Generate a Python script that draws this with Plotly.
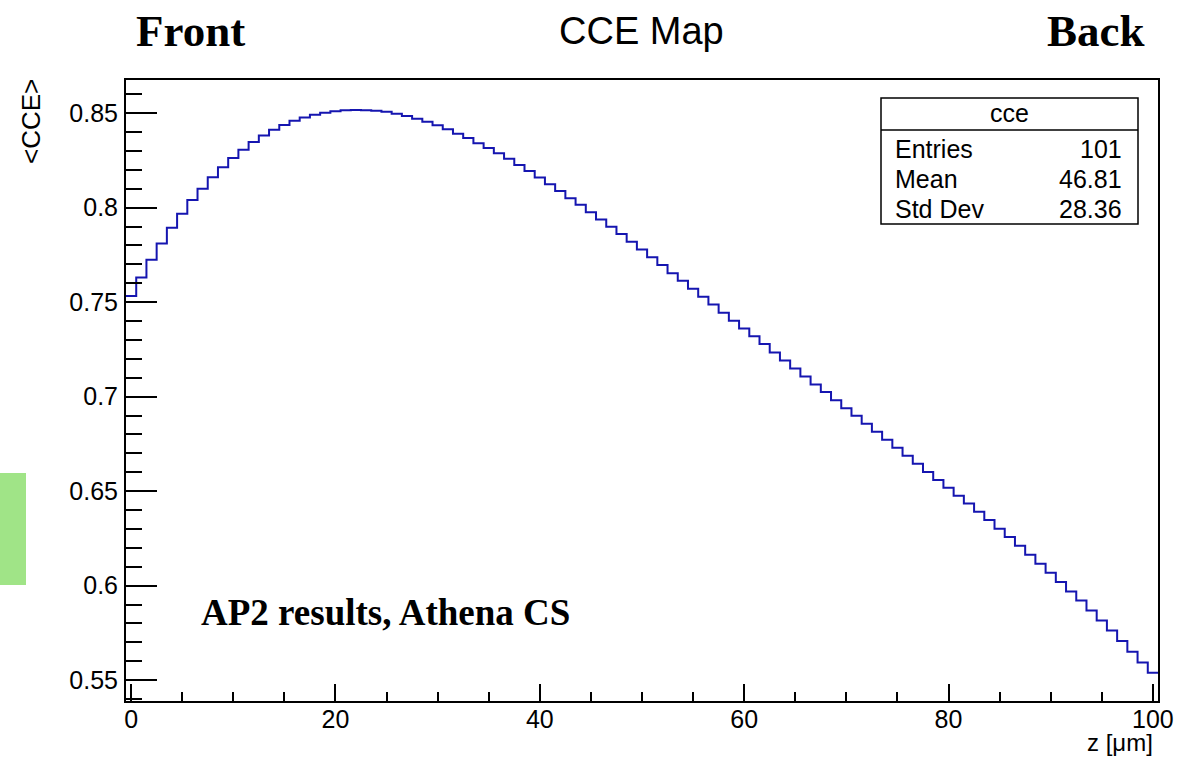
import numpy as np
import plotly.graph_objects as go

# Mean CCE per depth bin (z in micrometres, bin centres 0..100)
z_centres = list(range(0, 101))
cce_values = [
    0.7532, 0.7630, 0.7724, 0.7810, 0.7893, 0.7967, 0.8040, 0.8100, 0.8161, 0.8214,
    0.8262, 0.8306, 0.8347, 0.8382, 0.8412, 0.8437, 0.8459, 0.8477, 0.8491, 0.8502,
    0.8510, 0.8515, 0.8516, 0.8515, 0.8512, 0.8507, 0.8496, 0.8484, 0.8470, 0.8454,
    0.8435, 0.8414, 0.8391, 0.8368, 0.8341, 0.8315, 0.8287, 0.8258, 0.8225, 0.8193,
    0.8159, 0.8124, 0.8088, 0.8050, 0.8015, 0.7976, 0.7937, 0.7899, 0.7860, 0.7819,
    0.7779, 0.7738, 0.7696, 0.7653, 0.7613, 0.7571, 0.7528, 0.7488, 0.7444, 0.7401,
    0.7361, 0.7319, 0.7278, 0.7234, 0.7191, 0.7149, 0.7107, 0.7064, 0.7024, 0.6981,
    0.6939, 0.6899, 0.6856, 0.6814, 0.6772, 0.6729, 0.6687, 0.6645, 0.6602, 0.6559,
    0.6518, 0.6476, 0.6435, 0.6391, 0.6347, 0.6301, 0.6257, 0.6211, 0.6163, 0.6116,
    0.6068, 0.6020, 0.5969, 0.5921, 0.5869, 0.5816, 0.5763, 0.5707, 0.5650, 0.5594,
    0.5539,
]

# Statistics box contents
stats_title = "cce"
stats_labels = ["Entries", "Mean", "Std Dev"]
stats_values = ["101", "46.81", "28.36"]

# Axis ticks
x_ticks = [0, 20, 40, 60, 80, 100]
y_ticks = [0.55, 0.6, 0.65, 0.7, 0.75, 0.8, 0.85]

W, H = 1195, 758
L, R, T, B = 126, 1158, 80, 701  # frame edges in pixels


def pxx(x):
    return (x - L) / (R - L)


def pxy(y):
    return (B - y) / (B - T)


# Histogram drawn as a step outline over bin edges
centres = np.array(z_centres, dtype=float)
edges = np.append(centres - 0.5, centres[-1] + 0.5)
levels = np.append(np.array(cce_values), cce_values[-1])

fig = go.Figure()
fig.add_trace(go.Scatter(
    x=edges, y=levels, mode="lines", line_shape="hv",
    line=dict(color="#1515b0", width=2), showlegend=False, hoverinfo="skip",
))

sans = "Liberation Sans, Arial, Helvetica, sans-serif"
serif = "Liberation Serif, Times New Roman, serif"

fig.update_layout(
    width=W, height=H,
    margin=dict(l=L, r=W - R, t=T, b=H - B, pad=0),
    paper_bgcolor="white", plot_bgcolor="white",
    font=dict(family=sans, color="black"),
    xaxis=dict(
        range=[-0.5, 100.5], tickvals=x_ticks, ticks="inside", ticklen=17, tickwidth=1.5,
        tickcolor="black", showline=True, mirror=True, linecolor="black", linewidth=2,
        showgrid=False, zeroline=False, tickfont=dict(size=25, family=sans),
        ticklabelstandoff=-5,
        minor=dict(dtick=5, tick0=0, ticks="inside", ticklen=9, tickwidth=1.5,
                   tickcolor="black", showgrid=False),
    ),
    yaxis=dict(
        range=[0.539, 0.8675], tickvals=y_ticks, ticktext=[f"{v:g}" for v in y_ticks],
        ticks="inside", ticklen=31, tickwidth=1.5,
        tickcolor="black", showline=True, mirror=True, linecolor="black", linewidth=2,
        showgrid=False, zeroline=False, tickfont=dict(size=25, family=sans),
        ticklabelstandoff=1,
        minor=dict(dtick=0.01, tick0=0.55, ticks="inside", ticklen=16, tickwidth=1.5,
                   tickcolor="black", showgrid=False),
    ),
)

annotations = []


def note(text, x, y, size, family=sans, xanchor="center", yanchor="middle", angle=0):
    annotations.append(dict(
        text=text, x=pxx(x), y=pxy(y), xref="paper", yref="paper",
        xanchor=xanchor, yanchor=yanchor, showarrow=False, textangle=angle,
        font=dict(size=size, family=family, color="black"),
    ))


# Titles
note("CCE Map", 641, 31, 38)
note("<b>Front</b>", 134, 31, 45, family=serif, xanchor="left")
note("<b>Back</b>", 1147, 31, 45, family=serif, xanchor="right")
note("<b>AP2 results, Athena CS</b>", 199, 612, 37, family=serif, xanchor="left")

# Axis titles
note("z [μm]", 1155, 742, 24, xanchor="right")
note("&lt;CCE&gt;", 31, 122, 26, angle=-90)

# Statistics box
box_l, box_r, box_t, box_b, box_sep = 881, 1138, 98, 224, 130
shapes = [
    dict(type="rect", xref="paper", yref="paper", x0=pxx(box_l), x1=pxx(box_r),
         y0=pxy(box_b), y1=pxy(box_t), line=dict(color="black", width=1.5),
         fillcolor="white", layer="above"),
    dict(type="line", xref="paper", yref="paper", x0=pxx(box_l), x1=pxx(box_r),
         y0=pxy(box_sep), y1=pxy(box_sep), line=dict(color="black", width=1.5)),
    # green marker block on the left edge
    dict(type="rect", xref="paper", yref="paper", x0=pxx(0), x1=pxx(26),
         y0=pxy(585), y1=pxy(473), line=dict(width=0), fillcolor="#a0e487"),
]
note(stats_title, 1009, 113, 25)
row_y = [149, 179, 209]
for lab, val, yy in zip(stats_labels, stats_values, row_y):
    note(lab, 893, yy, 25, xanchor="left")
    note(val, 1124, yy, 25, xanchor="right")

fig.update_layout(annotations=annotations, shapes=shapes)
fig.write_html("out.html")
